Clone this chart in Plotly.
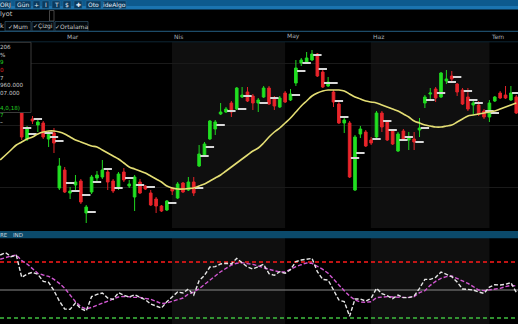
import plotly.graph_objects as go

W, H = 518, 324

# ---------------- data ----------------
opens = [13.4, 14.2, 13.6, 14.0, 13.5, 10.1, 12.1, 11.5, 11.7, 10.1,
         10.7, 5.2, 7.0, 4.7, 5.5, 5.9, 2.7, 4.8, 6.2, 6.3,
         6.8, 5.9, 5.2, 6.8, 5.4, 4.3, 5.8, 5.4, 4.7, 4.1,
         3.4, 3.0, 5.2, 4.2, 5.7, 5.0, 5.8, 7.4, 8.4, 10.1,
         11.1, 12.6, 12.8, 13.7, 13.1, 14.3, 14.8, 14.4, 13.7, 14.3,
         15.2, 14.2, 13.3, 14.7, 14.0, 15.7, 17.7, 17.8, 18.0, 18.6,
         16.8, 15.4, 14.8, 13.6, 11.7, 11.7, 5.0, 10.6, 10.8, 10.0,
         10.3, 12.7, 11.8, 10.9, 8.9, 10.9, 10.0, 10.1, 11.0, 13.7,
         14.6, 15.1, 14.3, 15.9, 16.4, 15.6, 15.0, 14.3, 13.5, 13.5,
         12.9, 12.3, 13.9, 14.7, 14.5, 14.0, 14.3]
highs = [14.2, 14.4, 14.6, 14.8, 14.0, 11.4, 12.4, 12.0, 11.9, 10.9,
         11.2, 8.2, 7.3, 5.3, 6.5, 6.1, 3.5, 6.5, 6.9, 8.0,
         7.0, 6.1, 6.8, 7.2, 6.0, 6.5, 6.1, 5.5, 5.0, 4.3,
         3.5, 4.0, 5.3, 5.8, 5.8, 6.3, 6.3, 9.5, 9.8, 12.0,
         12.0, 13.7, 13.3, 13.9, 15.3, 15.3, 15.3, 14.6, 14.2, 15.4,
         15.4, 14.4, 14.4, 14.9, 15.1, 18.0, 18.2, 18.8, 19.0, 18.7,
         17.0, 16.3, 15.0, 13.8, 12.2, 11.9, 10.5, 11.4, 11.0, 10.3,
         12.9, 12.9, 12.0, 11.1, 10.8, 11.1, 10.8, 10.8, 12.2, 14.5,
         15.2, 15.3, 16.8, 17.0, 16.9, 15.7, 15.2, 15.2, 13.9, 13.9,
         13.1, 14.0, 14.4, 14.9, 15.4, 15.4, 14.5]
lows = [13.2, 13.0, 13.4, 13.7, 10.0, 9.9, 11.6, 10.8, 10.1, 9.3,
        8.7, 5.0, 4.7, 4.1, 5.0, 3.6, 1.7, 4.6, 5.8, 6.1,
        5.0, 4.7, 5.0, 5.8, 5.2, 2.9, 4.6, 5.0, 3.4, 2.7,
        2.8, 2.9, 4.5, 4.1, 4.7, 4.9, 4.4, 7.3, 8.3, 10.0,
        10.5, 12.5, 12.7, 12.3, 13.0, 14.2, 13.8, 13.0, 12.8, 14.2,
        13.5, 13.0, 13.2, 13.7, 13.9, 15.4, 17.4, 17.7, 17.9, 16.3,
        15.2, 15.3, 13.3, 11.6, 10.7, 6.2, 4.9, 10.2, 9.3, 9.5,
        10.2, 10.8, 9.9, 9.5, 8.8, 9.9, 9.0, 9.0, 10.3, 13.2,
        14.0, 13.8, 14.2, 15.6, 15.9, 14.4, 13.5, 12.9, 12.5, 12.4,
        12.1, 11.8, 13.8, 14.1, 14.1, 13.9, 12.6]
closes = [14.0, 13.2, 14.4, 14.5, 10.3, 11.2, 11.9, 11.8, 10.3, 10.7,
          9.7, 7.4, 4.8, 4.9, 5.8, 3.8, 3.3, 6.3, 6.5, 7.0,
          5.8, 4.9, 6.6, 6.0, 5.6, 6.3, 4.7, 5.1, 3.5, 3.4,
          2.9, 3.9, 4.9, 5.6, 4.8, 5.8, 4.7, 8.6, 9.6, 11.9,
          11.8, 12.8, 13.1, 12.8, 15.2, 14.5, 13.9, 13.7, 14.0, 15.2,
          13.6, 13.4, 14.2, 13.8, 14.6, 17.2, 18.0, 18.2, 18.6, 16.4,
          15.3, 15.8, 13.8, 11.7, 12.0, 6.3, 10.3, 11.1, 9.4, 9.7,
          12.7, 11.3, 10.0, 9.6, 10.6, 10.0, 10.2, 9.8, 11.2, 14.3,
          14.7, 14.2, 16.7, 16.1, 16.1, 14.8, 13.6, 13.1, 13.7, 12.6,
          12.3, 13.7, 14.3, 14.2, 14.2, 14.7, 12.7]
ma = [8.0, 8.5, 9.0, 9.5, 9.8, 10.1, 10.3, 10.6, 10.8, 10.9,
      10.9, 10.8, 10.6, 10.3, 10.0, 9.8, 9.6, 9.4, 9.3, 9.0,
      8.7, 8.4, 8.1, 7.7, 7.3, 7.1, 6.9, 6.7, 6.4, 6.1,
      5.8, 5.4, 5.2, 5.1, 5.1, 5.15, 5.2, 5.4, 5.6, 5.9,
      6.2, 6.5, 6.9, 7.3, 7.7, 8.1, 8.5, 8.9, 9.2, 9.7,
      10.3, 10.8, 11.2, 11.7, 12.2, 12.8, 13.4, 13.9, 14.4, 14.7,
      14.9, 15.0, 15.0, 15.0, 14.9, 14.6, 14.3, 14.1, 13.9, 13.8,
      13.7, 13.5, 13.3, 13.1, 12.9, 12.6, 12.3, 11.9, 11.7, 11.5,
      11.4, 11.3, 11.3, 11.4, 11.5, 11.8, 12.1, 12.4, 12.5, 12.6,
      12.7, 12.8, 12.9, 13.1, 13.3, 13.5, 13.7]
mark_idx = [5, 6, 7, 9, 10, 11, 13, 14, 16, 17, 18, 20, 22, 24, 26, 28, 32, 37, 38, 39,
            41, 43, 45, 46, 49, 51, 55, 56, 57, 59, 60, 61, 62, 63, 64, 66, 67, 70, 72, 73,
            75, 76, 78, 79, 80, 82, 84, 85, 87, 88, 89, 91, 92, 96]
mark_val = [11.2, 10.6, 12.1, 10.7, 10.3, 9.9, 5.7, 4.9, 4.5, 2.8, 5.8, 7.1, 5.2, 6.2, 5.5, 5.3, 3.7, 5.2, 8.4, 9.3,
            11.5, 12.9, 13.1, 14.4, 13.7, 14.2, 14.5, 16.9, 17.7, 18.5, 17.1, 15.7, 15.7, 13.9, 12.3, 8.2, 8.7, 10.1, 11.9, 11.0,
            10.0, 10.3, 9.8, 11.2, 14.0, 14.7, 15.8, 16.3, 14.9, 14.0, 13.7, 12.9, 12.7, 14.7]
osc_fast = [87.5, 90.0, 85.7, 87.1, 63.6, 67.1, 68.9, 66.8, 59.3, 58.2,
            49.3, 38.2, 29.6, 29.3, 36.1, 30.0, 27.5, 42.9, 45.4, 46.8,
            41.4, 40.0, 47.1, 44.3, 42.5, 45.0, 42.1, 39.6, 35.0, 32.9,
            30.7, 37.5, 43.2, 47.9, 46.8, 51.1, 44.6, 60.0, 65.7, 74.6,
            75.0, 77.9, 78.6, 77.9, 83.9, 79.3, 74.6, 72.5,
            75.0, 77.5, 67.5, 65.7, 69.6, 67.9, 71.8, 80.4, 82.1, 82.9,
            83.9, 69.6, 61.4, 60.7, 50.0, 39.3, 37.5, 22.0, 40.4, 40.4,
            38.2, 41.1, 51.8, 46.1, 43.9, 40.7, 44.6, 41.8, 41.8, 43.6,
            51.8, 61.4, 61.4, 63.6, 69.3, 67.1, 64.3, 58.6, 51.1, 50.7,
            50.0, 47.9, 46.4, 53.2, 55.7, 55.4, 56.1, 57.9, 47.5]
osc_slow = [82.9, 85.0, 86.4, 87.5, 81.4, 77.9, 73.2, 67.9, 66.1, 64.6,
            61.4, 57.1, 51.8, 44.6, 37.5, 32.1, 29.6, 31.4, 33.6, 35.7,
            37.9, 40.0, 42.5, 43.2, 42.5, 42.1, 42.1, 41.4, 40.0, 37.9,
            35.4, 36.1, 37.9, 39.3, 41.4, 45.7, 47.9, 51.4, 55.7, 60.0,
            65.0, 69.6, 73.2, 76.8, 78.6, 79.3, 78.2, 77.5,
            75.7, 73.6, 72.1, 70.7, 69.3, 69.3, 72.5, 75.0, 77.1, 78.9,
            78.6, 75.7, 72.1, 67.9, 62.1, 55.4, 49.3, 43.6, 39.3, 37.1,
            36.8, 37.5, 41.8, 42.5, 42.9, 42.5, 42.1, 42.1, 42.1, 42.9,
            47.1, 49.3, 55.0, 59.3, 62.5, 64.3, 65.0, 62.5, 60.0, 57.1,
            53.6, 50.0, 49.3, 50.0, 50.7, 51.8, 53.6, 55.0, 54.3]
levels = [80, 50, 20]
months = ["Mar", "Nis", "May", "Haz", "Tem"]
month_start = [12, 32, 53, 69, 91]
toolbar_buttons = ["ORJ", "Gün", "+", "I", "T", "$", "✚", "Oto", "ideAlgo"]
tabs = ["✓Mum", "✓Çizgi", "✓Ortalama"]
info_lines = ["206", "%", "9", "0", "7", "960.000", "07.000", "", "4,0,18)", "7", "–"]
info_colors = ["#c8c8c8", "#c8c8c8", "#22dd22", "#e02020", "#c8c8c8", "#c8c8c8", "#c8c8c8",
               "#c8c8c8", "#22cc22", "#22cc22", "#e0e0e0"]

n = len(opens)
idx = list(range(n))
for arr in (highs, lows, closes, ma, osc_fast, osc_slow):
    assert len(arr) == n, len(arr)


def px(x):
    return x / W


def py(y):
    return 1 - y / H


FONT = "DejaVu Sans"
fig = go.Figure()

fig.add_trace(go.Candlestick(
    x=idx, open=opens, high=highs, low=lows, close=closes,
    increasing=dict(line=dict(color="#1fd81f", width=1), fillcolor="#22e022"),
    decreasing=dict(line=dict(color="#e42228", width=1), fillcolor="#e8262c"),
    whiskerwidth=0, showlegend=False, hoverinfo="skip", xaxis="x", yaxis="y"))
fig.add_trace(go.Scatter(
    x=mark_idx, y=mark_val, mode="markers", showlegend=False, hoverinfo="skip",
    marker=dict(symbol="line-ew", size=6, color="#d8d8d8", line=dict(color="#d8d8d8", width=2)),
    xaxis="x", yaxis="y"))
fig.add_trace(go.Scatter(
    x=idx, y=ma, mode="lines", line=dict(color="#e4de74", width=1.6, shape="spline"),
    showlegend=False, hoverinfo="skip", xaxis="x", yaxis="y"))

fig.add_trace(go.Scatter(
    x=idx, y=osc_slow, mode="lines", line=dict(color="#d257d2", width=1.4, dash="4px,2px"),
    showlegend=False, hoverinfo="skip", xaxis="x2", yaxis="y2"))
fig.add_trace(go.Scatter(
    x=idx, y=osc_fast, mode="lines", line=dict(color="#e6e6e6", width=1.4, dash="4px,2px"),
    showlegend=False, hoverinfo="skip", xaxis="x2", yaxis="y2"))

shapes = []
# month bands (Nis, Haz)
for k in (1, 3):
    for yr in ("y domain", "y2 domain"):
        shapes.append(dict(type="rect", xref="x" if yr == "y domain" else "x2", yref=yr,
                           x0=month_start[k] - 0.05, x1=month_start[k + 1],
                           y0=0, y1=1, fillcolor="#0f0f0f", line=dict(width=0), layer="below"))
# indicator levels
lvl_style = [("#ff1a1a", "4px,3px", 1.6), ("#8a8a8a", "solid", 1.0), ("#3fbf3f", "4px,3px", 1.6)]
for v, (c, d, w) in zip(levels, lvl_style):
    shapes.append(dict(type="line", xref="paper", yref="y2", x0=0, x1=1, y0=v, y1=v,
                       line=dict(color=c, width=w, dash=d), layer="below"))

# toolbar
shapes.append(dict(type="rect", xref="paper", yref="paper", x0=0, x1=1, y0=py(6), y1=py(0),
                   fillcolor="#0d5a8e", line=dict(width=0), layer="above"))
shapes.append(dict(type="rect", xref="paper", yref="paper", x0=0, x1=1, y0=py(9.5), y1=py(6),
                   fillcolor="#1b74b0", line=dict(width=0), layer="above"))
btn_x = [(0, 11), (15, 31), (33, 40), (42, 49), (52, 60), (63, 71), (74, 82), (86, 101), (103, 126)]
for (a, b), lab in zip(btn_x, toolbar_buttons):
    shapes.append(dict(type="rect", xref="paper", yref="paper", x0=px(a), x1=px(b), y0=py(8.5), y1=py(0.8),
                       fillcolor="#0a3a5e", line=dict(color="#2a6c98", width=0.6), layer="above"))
# scroll thingy
shapes.append(dict(type="rect", xref="paper", yref="paper", x0=px(49.5), x1=px(54), y0=py(21), y1=py(10.5),
                   fillcolor="#000000", line=dict(color="#555555", width=0.8), layer="above"))
# tabs
tab_x = [(5, 31), (32, 54), (55, 88)]
for (a, b) in tab_x:
    shapes.append(dict(type="rect", xref="paper", yref="paper", x0=px(a), x1=px(b), y0=py(31), y1=py(21.5),
                       fillcolor="#03080c", line=dict(color="#2b4a5e", width=0.8), layer="above"))
# header row lines
shapes.append(dict(type="line", xref="paper", yref="paper", x0=0, x1=1, y0=py(31.3), y1=py(31.3),
                   line=dict(color="#1d4b68", width=1.2), layer="above"))
shapes.append(dict(type="line", xref="paper", yref="paper", x0=0, x1=1, y0=py(41.8), y1=py(41.8),
                   line=dict(color="#0e2634", width=1), layer="above"))
# indicator header
shapes.append(dict(type="rect", xref="paper", yref="paper", x0=0, x1=1, y0=py(238.3), y1=py(231),
                   fillcolor="#0b4a6b", line=dict(width=0), layer="above"))
# info panel
shapes.append(dict(type="rect", xref="paper", yref="paper", x0=px(-2), x1=px(31), y0=py(112.5), y1=py(42.3),
                   fillcolor="#000000", line=dict(color="#3a3a3a", width=1), layer="above"))

annotations = []


def txt(x, y, s, color="#d0d0d0", size=6.5, anchor="left"):
    annotations.append(dict(x=px(x), y=py(y), xref="paper", yref="paper", text=s, showarrow=False,
                            xanchor=anchor, yanchor="middle", borderpad=0,
                            font=dict(family=FONT, size=size, color=color)))


for (a, b), lab in zip(btn_x, toolbar_buttons):
    txt((a + b) / 2, 4.8, lab, color="#e4ecf4", size=6, anchor="center")
txt(-1, 14.5, "lyot", color="#c8c8c8", size=6.5)
txt(-1, 26, "k", color="#c8c8c8", size=6.5)
for (a, b), lab in zip(tab_x, tabs):
    txt((a + b) / 2, 26.3, lab, color="#c8c8c8", size=6, anchor="center")
for m, s in zip(months, month_start):
    annotations.append(dict(x=s, y=py(36.5), xref="x", yref="paper", text=m, showarrow=False,
                            xanchor="left", yanchor="middle", xshift=1, borderpad=0,
                            font=dict(family=FONT, size=6, color="#a8b0b8")))
info_y = [47, 55, 62.5, 70, 77.5, 85, 92.5, 100, 107.5, 115, 122]
for yy, s, c in zip(info_y, info_lines, info_colors):
    if s:
        txt(-1, yy, s, color=c, size=5.6)
txt(-1, 234.6, "RE", color="#c8d4dc", size=5.5)
txt(11.5, 234.6, "IND", color="#c8d4dc", size=5.5)

xr = [-0.04, 96.32]
fig.update_layout(
    width=W, height=H, margin=dict(l=0, r=0, t=0, b=0),
    paper_bgcolor="#000000", plot_bgcolor="#000000",
    showlegend=False, hovermode=False,
    shapes=shapes, annotations=annotations,
    xaxis=dict(domain=[0, 1], range=xr, anchor="y", showticklabels=False, showgrid=False,
               zeroline=False, rangeslider=dict(visible=False), fixedrange=True, ticks=""),
    yaxis=dict(domain=[py(228), py(42)], range=[1.2, 19.8], showticklabels=False,
               tickvals=[5.3, 11.5, 17.7], gridcolor="#1a1a1a", gridwidth=1, zeroline=False, ticks=""),
    xaxis2=dict(domain=[0, 1], range=xr, anchor="y2", matches="x", showticklabels=False,
                showgrid=False, zeroline=False, ticks=""),
    yaxis2=dict(domain=[0, py(238)], range=[13.6, 105.7], showticklabels=False, showgrid=False,
                zeroline=False, ticks=""),
)

fig.write_html("out.html")
